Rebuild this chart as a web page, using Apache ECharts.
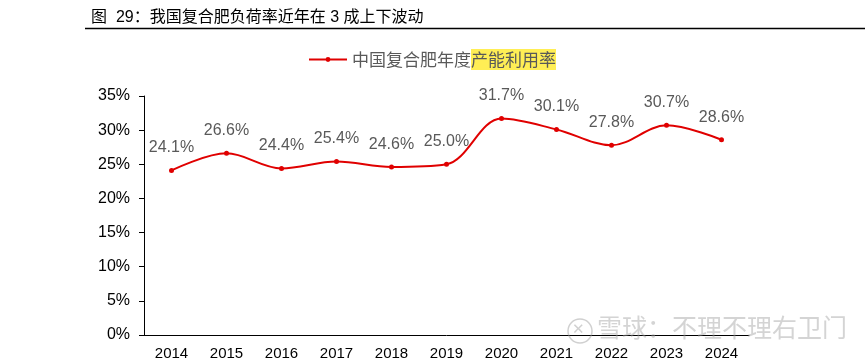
<!DOCTYPE html>
<html><head><meta charset="utf-8">
<script src="https://cdn.jsdelivr.net/npm/echarts@6/dist/echarts.min.js"></script>
<style>html,body{margin:0;padding:0;background:#fff}#c{width:865px;height:363px}</style>
</head><body><div id="c"></div>
<script>
const years = ['2014','2015','2016','2017','2018','2019','2020','2021','2022','2023','2024'];
const utilization = [24.1, 26.6, 24.4, 25.4, 24.6, 25.0, 31.7, 30.1, 27.8, 30.7, 28.6];
const yTicks = [0, 5, 10, 15, 20, 25, 30, 35];
const chart = echarts.init(document.getElementById('c'));
const font = '"Liberation Sans", Arial, "Noto Sans CJK SC", sans-serif';
const cjk = '"Noto Sans CJK SC", sans-serif';
chart.setOption({
  animation: false,
  textStyle: { fontFamily: font },
  title: {
    text: '图  29：我国复合肥负荷率近年在 3 成上下波动',
    left: 86, top: 5,
    textStyle: { fontSize: 16, fontWeight: 'normal', color: '#000', fontFamily: font }
  },
  graphic: [
    { type: 'line', shape: { x1: 85, y1: 28.5, x2: 865, y2: 28.5 }, style: { stroke: '#000', lineWidth: 1.5 } },
    { type: 'circle', shape: { cx: 580, cy: 331, r: 12 }, style: { fill: 'none', stroke: 'rgba(150,150,150,0.45)', lineWidth: 1.5 }, z: 100 },
    { type: 'text', left: 572, top: 322, style: { text: '✕', fontSize: 15, fill: 'rgba(150,150,150,0.45)', fontFamily: font }, z: 100 },
    { type: 'text', left: 597, top: 315, style: { text: '雪球：不理不理右卫门', fontSize: 25, fill: 'rgba(160,160,160,0.45)', fontFamily: cjk }, z: 100 }
  ],
  legend: {
    top: 44, left: 303,
    itemWidth: 38, itemHeight: 6, itemGap: 8,
    data: [{ name: '中国复合肥年度产能利用率' }],
    formatter: () => '中国复合肥年度{h|产能利用率}',
    textStyle: {
      fontSize: 17, color: '#595959', fontFamily: cjk,
      rich: { h: { backgroundColor: '#ffee55', fontSize: 17, color: '#595959', fontFamily: cjk, padding: [2, 0, 2, 0] } }
    }
  },
  grid: { left: 144, right: 116, top: 96, bottom: 28 },
  xAxis: {
    type: 'category', data: years, boundaryGap: true,
    axisLine: { lineStyle: { color: '#000', width: 1 } },
    axisTick: { inside: true, length: 5, lineStyle: { color: '#000' } },
    axisLabel: { color: '#000', fontSize: 15, margin: 11 }
  },
  yAxis: {
    type: 'value', min: 0, max: 35, interval: 5,
    axisLine: { show: true, lineStyle: { color: '#000', width: 1 } },
    axisTick: { show: true, length: 5, lineStyle: { color: '#000' } },
    splitLine: { show: false },
    axisLabel: { color: '#000', fontSize: 16, margin: 14, formatter: v => yTicks.includes(v) ? v + '%' : '' }
  },
  series: [{
    name: '中国复合肥年度产能利用率', type: 'line', smooth: 0.35,
    data: utilization,
    lineStyle: { color: '#e00000', width: 2 },
    itemStyle: { color: '#e00000' },
    symbol: 'circle', symbolSize: 5,
    label: { show: true, position: 'top', distance: 12, formatter: p => p.value.toFixed(1) + '%', fontSize: 16, color: '#595959' }
  }]
});
</script></body></html>
